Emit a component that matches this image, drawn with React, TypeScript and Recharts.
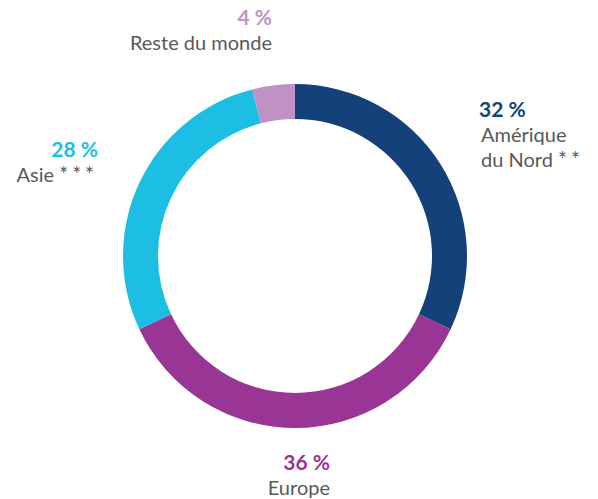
import React from 'react';
import { PieChart, Pie, Cell } from 'recharts';

const regions = ['Amérique\ndu Nord **', 'Europe', 'Asie ***', 'Reste du monde'];
const shares = [32, 36, 28, 4];
const pctLabels = ['32 %', '36 %', '28 %', '4 %'];
const colors = ['#15417a', '#993594', '#1dbee3', '#c291c3'];

const data = regions.map((name, i) => ({ name, value: shares[i], pct: pctLabels[i] }));

// label placement relative to the pie centre
const labelLayout = [
  { dx: 184, dy: -139, anchor: 'start' },
  { dx: 35, dy: 214, anchor: 'end' },
  { dx: -197, dy: -99, anchor: 'end' },
  { dx: -23, dy: -231, anchor: 'end' },
];

const FONT = 'Lato, "Open Sans", sans-serif';

const renderLine = (ln: string) => {
  const m = ln.match(/^(.*?)(\*+)$/);
  if (!m) return ln;
  return (
    <>
      {m[1]}
      <tspan fontSize={21} letterSpacing={4}>{m[2]}</tspan>
    </>
  );
};

const renderLabel = (props: any) => {
  const { cx, cy, index } = props;
  const l = labelLayout[index];
  const x = cx + l.dx;
  const y = cy + l.dy;
  const lines = data[index].name.split('\n');
  return (
    <g key={`lbl-${index}`}>
      <text x={x} y={y} textAnchor={l.anchor} fill={colors[index]} fontFamily={FONT} fontWeight={700} fontSize={21}>
        {data[index].pct}
      </text>
      {lines.map((ln, j) => (
        <text key={j} x={x + (l.anchor === 'start' ? 2 : 0)} y={y + 25 + j * 25} textAnchor={l.anchor} fill="#58595b" fontFamily={FONT} fontSize={20}>
          {renderLine(ln)}
        </text>
      ))}
    </g>
  );
};

export default function App() {
  return (
    <div style={{ position: 'absolute', left: 0, top: 0, width: 598, height: 499, background: '#fff' }}>
      <PieChart width={598} height={499} margin={{ top: 0, right: 0, bottom: 0, left: 0 }}>
        <Pie
          data={data}
          dataKey="value"
          cx={295}
          cy={256}
          innerRadius={137}
          outerRadius={172}
          startAngle={90}
          endAngle={-270}
          stroke="none"
          isAnimationActive={false}
          label={renderLabel}
          labelLine={false}
        >
          {data.map((d, i) => (
            <Cell key={d.name} fill={colors[i]} />
          ))}
        </Pie>
      </PieChart>
    </div>
  );
}
